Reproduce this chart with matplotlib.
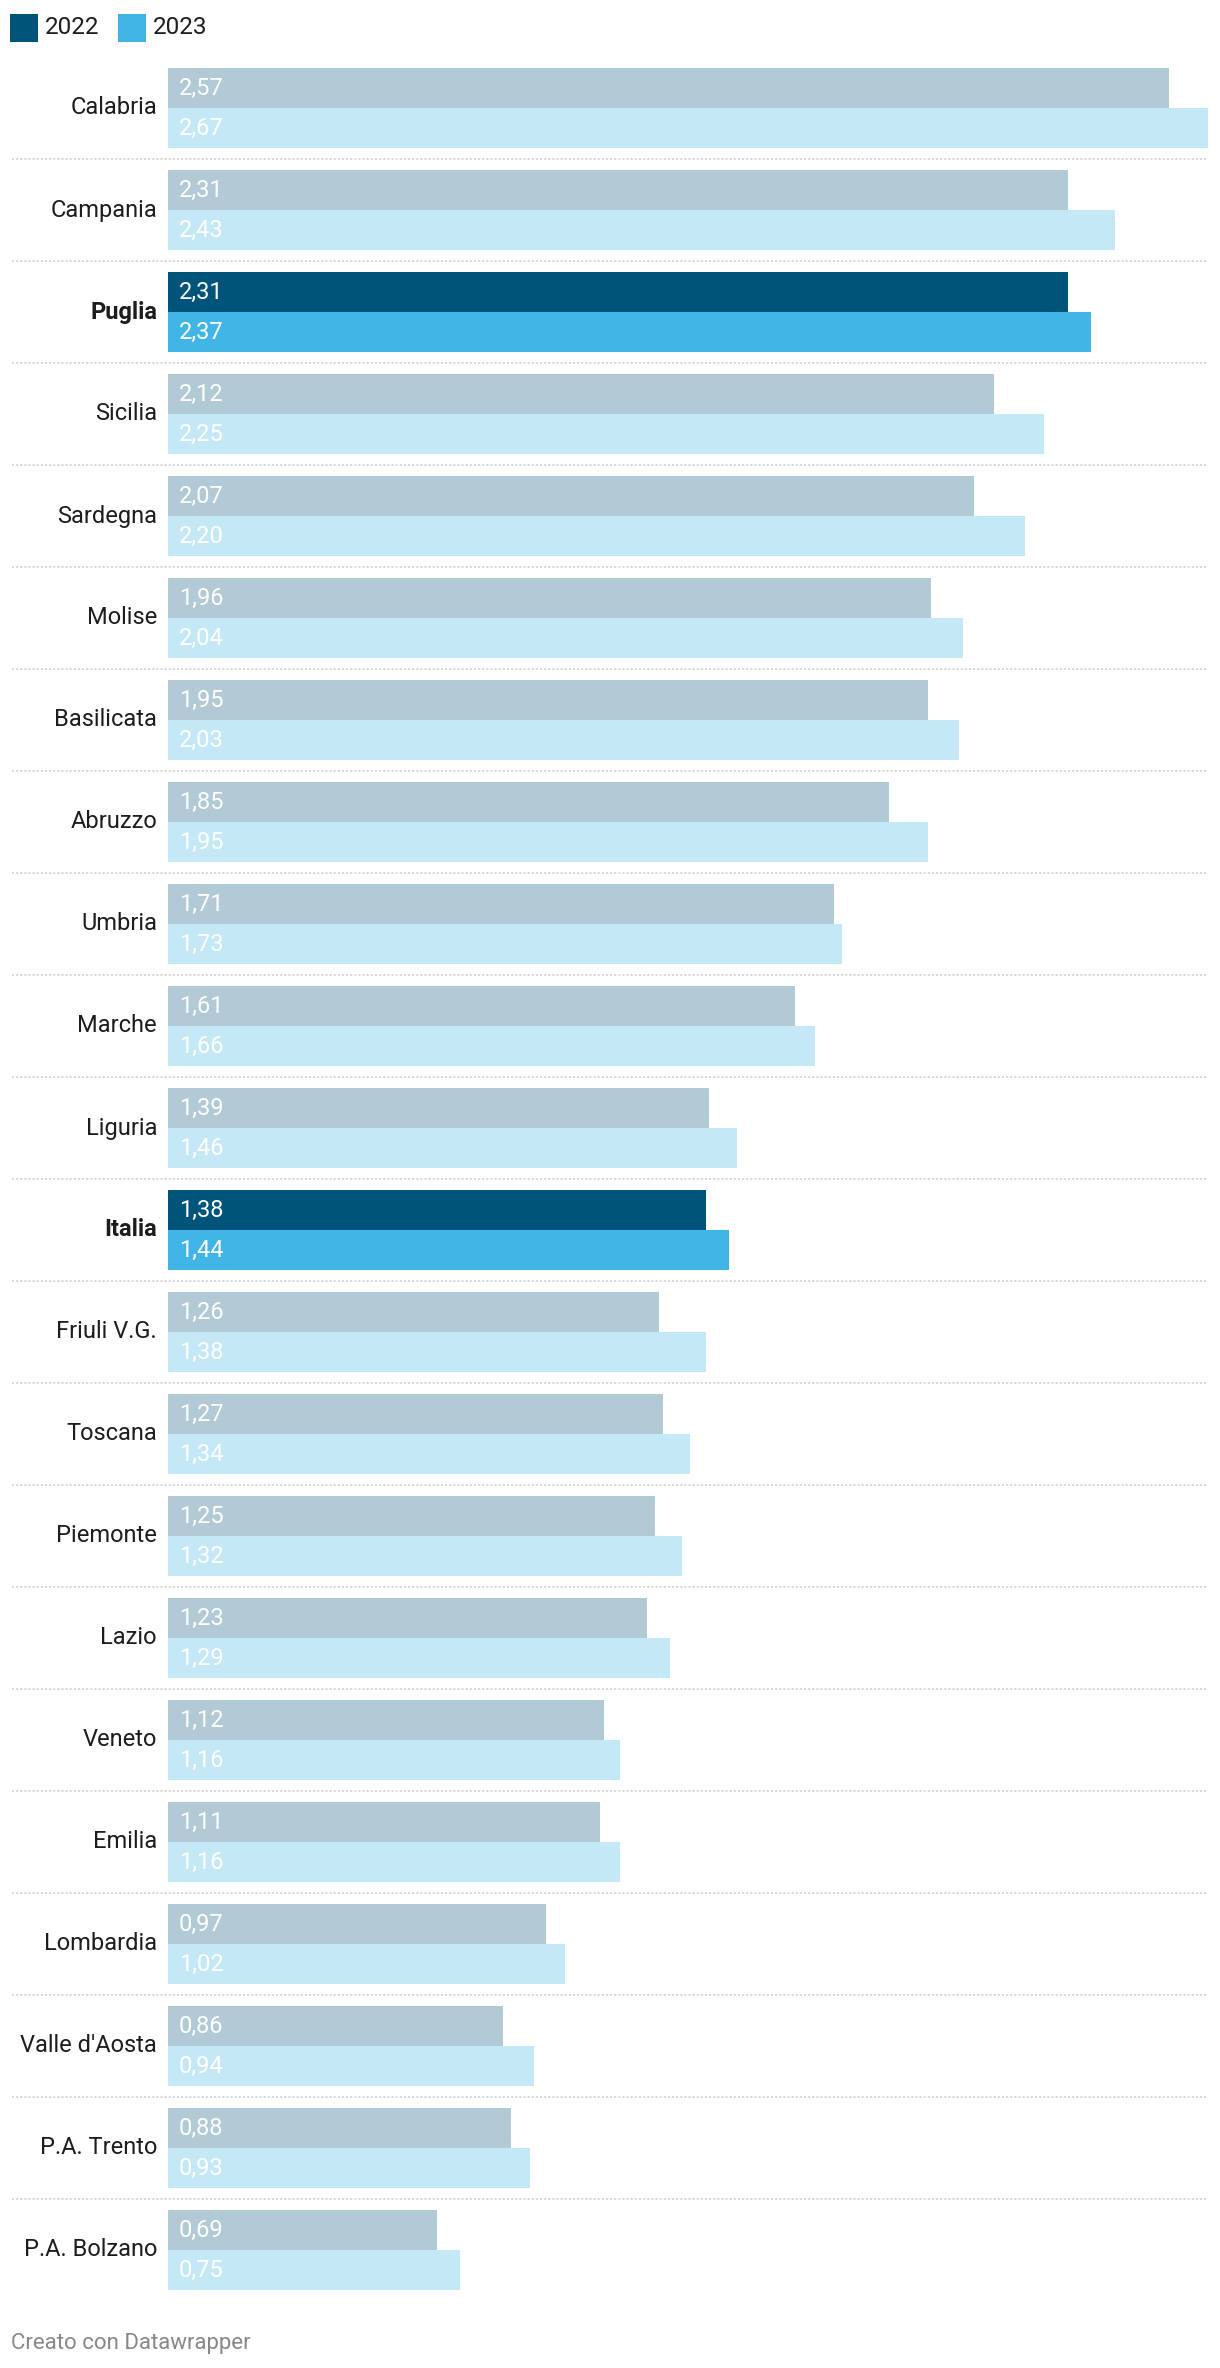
import matplotlib
matplotlib.use("Agg")
import matplotlib.pyplot as plt
from matplotlib.patches import Rectangle

plt.rcParams["font.family"] = ["Roboto", "DejaVu Sans"]

# data
regions = ["Calabria", "Campania", "Puglia", "Sicilia", "Sardegna", "Molise",
           "Basilicata", "Abruzzo", "Umbria", "Marche", "Liguria", "Italia",
           "Friuli V.G.", "Toscana", "Piemonte", "Lazio", "Veneto", "Emilia",
           "Lombardia", "Valle d'Aosta", "P.A. Trento", "P.A. Bolzano"]
v2022 = [2.57, 2.31, 2.31, 2.12, 2.07, 1.96, 1.95, 1.85, 1.71, 1.61, 1.39, 1.38,
         1.26, 1.27, 1.25, 1.23, 1.12, 1.11, 0.97, 0.86, 0.88, 0.69]
v2023 = [2.67, 2.43, 2.37, 2.25, 2.20, 2.04, 2.03, 1.95, 1.73, 1.66, 1.46, 1.44,
         1.38, 1.34, 1.32, 1.29, 1.16, 1.16, 1.02, 0.94, 0.93, 0.75]
highlight = ["Puglia", "Italia"]
years = ["2022", "2023"]

# colours
c22, c23 = "#b2c9d6", "#c5e8f6"
c22_hi, c23_hi = "#00547a", "#41b6e6"

W, H, DPI = 1220, 2368, 100
fig = plt.figure(figsize=(W / DPI, H / DPI), dpi=DPI)
fig.patch.set_facecolor("white")

# axes placed in pixel units: x 168..1208, y 57..2301 (from top)
x0, x1, y0, y1 = 168, 1208, 57, 2301
ax = fig.add_axes([x0 / W, 1 - y1 / H, (x1 - x0) / W, (y1 - y0) / H])
ax.set_xlim(0, max(v2023))
ax.set_ylim(len(regions), 0)
ax.axis("off")

pitch = 102.0
top_off, bar_h = 11 / pitch, 40 / pitch
ytr = ax.get_yaxis_transform()
for i, (name, a, b) in enumerate(zip(regions, v2022, v2023)):
    hi = name in highlight
    ya, yb = i + top_off + bar_h / 2, i + top_off + 1.5 * bar_h
    ax.barh(ya, a, height=bar_h, color=c22_hi if hi else c22, lw=0)
    ax.barh(yb, b, height=bar_h, color=c23_hi if hi else c23, lw=0)
    for yy, v in [(ya, a), (yb, b)]:
        ax.text(11 / 1040, yy, f"{v:.2f}".replace(".", ","), transform=ytr,
                color="white", fontsize=17, va="center", ha="left")
    ax.text(-11 / 1040, i + 0.5, name, transform=ytr,
            ha="right", va="center", fontsize=17, color="#1d1d1d",
            fontweight="bold" if hi else "normal")
    if i < len(regions) - 1:
        ax.plot([-156 / 1040, 1.0], [i + 1, i + 1], transform=ytr,
                color="#cccccc", lw=1.1, ls=(0, (1.3, 1.4)), clip_on=False)

# legend
for k, (yr, col) in enumerate(zip(years, [c22_hi, c23_hi])):
    lx = 10 + k * 108
    fig.add_artist(Rectangle((lx / W, 1 - 42 / H), 28 / W, 28 / H,
                             transform=fig.transFigure, color=col, lw=0))
    fig.text((lx + 35) / W, 1 - 28 / H, yr, fontsize=17.5, color="#1d1d1d",
             va="center", ha="left")

fig.text(11 / W, 1 - 2343 / H, "Creato con Datawrapper", fontsize=16,
         color="#888888", va="center", ha="left")

fig.savefig("out.png", dpi=DPI, facecolor="white")
